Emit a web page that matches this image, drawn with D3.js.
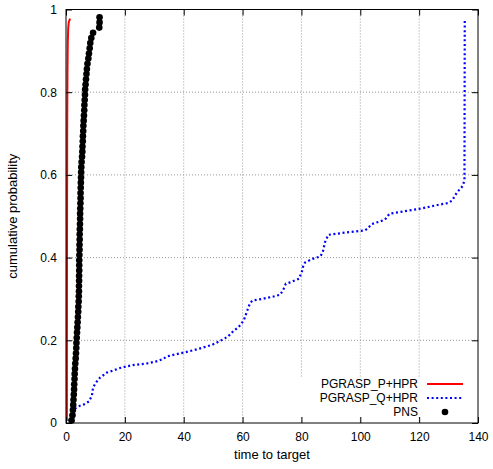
<!DOCTYPE html>
<html>
<head>
<meta charset="utf-8">
<script src="https://cdn.jsdelivr.net/npm/d3@7"></script>
<style>
  body { margin: 0; background: #fff; }
  svg text { font-family: "Liberation Sans", Arial, Helvetica, sans-serif; fill: #000; }
</style>
</head>
<body>
<div id="chart"></div>
<script>
// ==============================
// TTT plot: cumulative probability vs time to target
// ==============================
var svgWidth = 493;
var svgHeight = 469;

var margin = { top: 9.5, right: 15, bottom: 46, left: 66 };
var width = svgWidth - margin.left - margin.right;
var height = svgHeight - margin.top - margin.bottom;

// axis ticks
var xTicks = [0, 20, 40, 60, 80, 100, 120, 140];
var yTicks = [0, 0.2, 0.4, 0.6, 0.8, 1];

var seriesNames = ["PGRASP_P+HPR", "PGRASP_Q+HPR", "PNS"];

// PGRASP_P+HPR curve, [time, probability]
var pgraspP = [
  [0.3, 0.005], [0.32, 0.3], [0.4, 0.7], [0.5, 0.85], [0.6, 0.92],
  [0.75, 0.955], [0.95, 0.97], [1.4, 0.978]
];

// PGRASP_Q+HPR curve, [time, probability]
var pgraspQ = [
  [1.0, 0.005], [1.7, 0.013], [2.7, 0.033], [4.1, 0.040], [6.1, 0.045],
  [7.8, 0.052], [8.8, 0.066], [9.2, 0.086], [10.2, 0.098], [11.6, 0.110],
  [13.9, 0.122], [16.0, 0.127], [18.4, 0.133], [20.7, 0.137], [22.7, 0.140],
  [27.5, 0.144], [31.3, 0.150], [33.0, 0.155], [34.3, 0.161], [36.0, 0.164],
  [40.4, 0.171], [44.9, 0.179], [49.6, 0.189], [52.0, 0.197], [53.3, 0.202],
  [55.0, 0.209], [57.1, 0.224], [58.4, 0.230], [59.5, 0.239], [60.5, 0.250],
  [61.4, 0.268], [61.9, 0.278], [62.5, 0.289], [63.3, 0.296], [66.6, 0.300],
  [70.0, 0.305], [72.7, 0.310], [73.7, 0.320], [74.7, 0.337], [76.1, 0.340],
  [79.2, 0.349], [80.2, 0.367], [80.5, 0.377], [81.2, 0.388], [83.8, 0.397],
  [86.5, 0.403], [87.3, 0.415], [88.0, 0.437], [89.1, 0.455], [95.4, 0.461],
  [101.7, 0.466], [102.7, 0.472], [103.9, 0.481], [106.9, 0.488], [108.4, 0.492],
  [109.9, 0.506], [111.5, 0.508], [120.9, 0.519], [126.8, 0.528], [129.9, 0.532],
  [131.2, 0.538], [132.8, 0.557], [133.9, 0.566], [134.9, 0.574], [135.4, 0.588],
  [135.5, 0.977]
];

// PNS sorted times to target (one point per run)
var pnsTimes = [
  1.9, 2.2, 2.35, 2.45, 2.55, 2.65, 2.75, 2.8, 2.9, 2.95,
  3.05, 3.15, 3.3, 3.4, 3.5, 3.55, 3.65, 3.75, 3.85, 3.95,
  4.05, 4.15, 4.2, 4.3, 4.35, 4.4, 4.4, 4.45, 4.45, 4.5,
  4.5, 4.5, 4.55, 4.6, 4.6, 4.65, 4.65, 4.7, 4.75, 4.8,
  4.8, 4.85, 4.9, 4.95, 4.95, 5.0, 5.05, 5.1, 5.15, 5.2,
  5.3, 5.45, 5.55, 5.6, 5.7, 5.75, 5.85, 5.9, 6.0, 6.1,
  6.2, 6.25, 6.35, 6.45, 6.5, 6.65, 6.8, 6.95, 7.1, 7.3,
  7.6, 7.8, 8.05, 8.25, 8.6, 9.2, 11.3, 11.4, 11.4
];
var pnsRuns = 80;

var svg = d3.select("#chart")
  .append("svg")
  .attr("width", svgWidth)
  .attr("height", svgHeight);

var chartGroup = svg.append("g")
  .attr("transform", `translate(${margin.left}, ${margin.top})`);

var xScale = d3.scaleLinear().domain([0, 140]).range([0, width]);
var yScale = d3.scaleLinear().domain([0, 1]).range([height, 0]);

// grid lines
chartGroup.append("g")
  .selectAll("line.vgrid")
  .data(xTicks.slice(1, -1))
  .enter()
  .append("line")
  .attr("x1", d => xScale(d)).attr("x2", d => xScale(d))
  .attr("y1", 0).attr("y2", height)
  .attr("stroke", "#999")
  .attr("stroke-dasharray", "1,2");

chartGroup.append("g")
  .selectAll("line.hgrid")
  .data(yTicks.slice(1, -1))
  .enter()
  .append("line")
  .attr("x1", 0).attr("x2", width)
  .attr("y1", d => yScale(d)).attr("y2", d => yScale(d))
  .attr("stroke", "#999")
  .attr("stroke-dasharray", "1,2");

// key background hides the grid
var keyX = 418;
var keyY = [384, 398, 412];
chartGroup.append("rect")
  .attr("x", 296 - margin.left)
  .attr("y", 377 - margin.top)
  .attr("width", width - (296 - margin.left))
  .attr("height", 40)
  .attr("fill", "#fff");

var line = d3.line()
  .x(d => xScale(d[0]))
  .y(d => yScale(d[1]));

// PGRASP_Q+HPR
chartGroup.append("path")
  .datum(pgraspQ)
  .attr("d", line)
  .attr("fill", "none")
  .attr("stroke", "#0000ff")
  .attr("stroke-width", 2.2)
  .attr("stroke-dasharray", "2,2.6");

// PNS
chartGroup.selectAll("circle.pns")
  .data(pnsTimes)
  .enter()
  .append("circle")
  .attr("cx", d => xScale(d))
  .attr("cy", (d, i) => yScale((i + 0.5) / pnsRuns))
  .attr("r", 3.3)
  .attr("fill", "#000");

// PGRASP_P+HPR
chartGroup.append("path")
  .datum(pgraspP)
  .attr("d", line)
  .attr("fill", "none")
  .attr("stroke", "#ff0000")
  .attr("stroke-width", 2);

// axes, ticks inward on all four sides
chartGroup.append("g")
  .attr("transform", `translate(0, ${height})`)
  .call(d3.axisBottom(xScale).tickValues(xTicks).tickSize(-6).tickPadding(9.5).tickFormat(d => String(d)));

chartGroup.append("g")
  .call(d3.axisTop(xScale).tickValues(xTicks).tickSize(-6).tickFormat(""));

chartGroup.append("g")
  .call(d3.axisLeft(yScale).tickValues(yTicks).tickSize(-6).tickPadding(9).tickFormat(d => String(d)));

chartGroup.append("g")
  .attr("transform", `translate(${width}, 0)`)
  .call(d3.axisRight(yScale).tickValues(yTicks).tickSize(-6).tickFormat(""));

chartGroup.selectAll(".domain").remove();
chartGroup.selectAll(".tick line").attr("stroke", "#000");
chartGroup.selectAll(".tick text").attr("font-size", "12px").attr("fill", "#000");

// border
chartGroup.append("rect")
  .attr("x", 0).attr("y", 0)
  .attr("width", width).attr("height", height)
  .attr("fill", "none")
  .attr("stroke", "#000")
  .attr("stroke-width", 1);

// axis titles
chartGroup.append("text")
  .attr("x", width / 2)
  .attr("y", 459 - margin.top)
  .attr("text-anchor", "middle")
  .attr("font-size", "13px")
  .text("time to target");

chartGroup.append("text")
  .attr("transform", "rotate(-90)")
  .attr("x", -height / 2)
  .attr("y", 17 - margin.left)
  .attr("text-anchor", "middle")
  .attr("font-size", "13px")
  .text("cumulative probability");

// key
var key = chartGroup.append("g")
  .attr("transform", `translate(${-margin.left}, ${-margin.top})`);

seriesNames.forEach(function(name, i) {
  key.append("text")
    .attr("x", keyX)
    .attr("y", keyY[i])
    .attr("dy", "0.35em")
    .attr("text-anchor", "end")
    .attr("font-size", "12px")
    .text(name);
});

key.append("line")
  .attr("x1", 427).attr("x2", 463)
  .attr("y1", keyY[0]).attr("y2", keyY[0])
  .attr("stroke", "#ff0000").attr("stroke-width", 2);

key.append("line")
  .attr("x1", 427).attr("x2", 463)
  .attr("y1", keyY[1]).attr("y2", keyY[1])
  .attr("stroke", "#0000ff").attr("stroke-width", 2.2)
  .attr("stroke-dasharray", "2,2.6");

key.append("circle")
  .attr("cx", 445).attr("cy", keyY[2])
  .attr("r", 3.3)
  .attr("fill", "#000");
</script>
</body>
</html>
